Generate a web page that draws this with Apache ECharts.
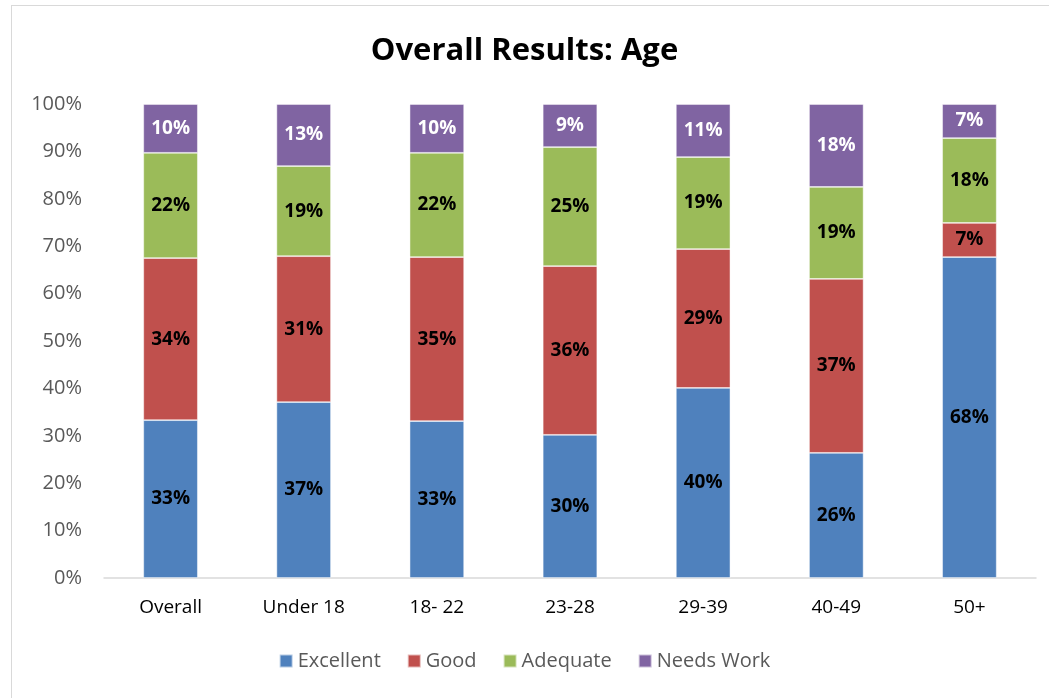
<!DOCTYPE html>
<html><head><meta charset="utf-8">
<script src="https://cdn.jsdelivr.net/npm/echarts@6/dist/echarts.min.js"></script>
<style>html,body{margin:0;padding:0;background:#fff}
#frame{position:absolute;left:11px;top:5px;width:1050px;height:700px;border:1.5px solid #d9d9d9;box-sizing:border-box}
#c{width:1049px;height:698px;position:absolute;left:0;top:0}</style>
</head><body><div id="frame"></div><div id="c"></div>
<script>
const categories = ["Overall","Under 18","18- 22","23-28","29-39","40-49","50+"];
const excellent = [33.3, 37.1, 33.1, 30.2, 40.1, 26.4, 67.7];
const good      = [34.2, 30.8, 34.6, 35.6, 29.3, 36.7, 7.2];
const adequate  = [22.2, 19.0, 22.0, 25.1, 19.4, 19.4, 17.9];
const needsWork = [10.3, 13.1, 10.3, 9.1, 11.2, 17.5, 7.2];
const yTicks = [0,10,20,30,40,50,60,70,80,90,100];

const font = "'Open Sans', 'Noto Sans', sans-serif";
function mk(name, data, color, labelColor){
  return {name, type:'bar', stack:'a', data, barCategoryGap:'59%',
    itemStyle:{color, borderColor:'rgba(255,255,255,0.6)', borderWidth:0.8},
    label:{show:true, position:'inside', color:labelColor, fontWeight:'bold', fontSize:19, fontFamily:font,
      formatter:p=>Math.round(p.value)+'%'}};
}
const chart = echarts.init(document.getElementById('c'));
chart.setOption({
  animation:false,
  title:{text:'Overall Results: Age', left:'center', top:31, textStyle:{fontFamily:font, fontWeight:'bold', fontSize:31, color:'#000'}},
  grid:{left:104, right:13, top:104, bottom:120},
  legend:{bottom:22, left:'center', itemWidth:13, itemHeight:13, itemGap:26, icon:'rect',
    textStyle:{fontFamily:font, fontSize:20, color:'#595959'}},
  xAxis:{type:'category', data:categories, axisTick:{show:false},
    axisLine:{lineStyle:{color:'#d9d9d9', width:1.5}},
    axisLabel:{color:'#000', fontSize:19, fontFamily:font, margin:20}},
  yAxis:{type:'value', min:0, max:100, interval:10, splitLine:{show:false},
    axisLabel:{color:'#595959', fontSize:20, fontFamily:font, margin:22, formatter:v=>yTicks.includes(v)?v+'%':''}},
  series:[
    mk('Excellent', excellent, '#4F81BD', '#000'),
    mk('Good', good, '#C0504D', '#000'),
    mk('Adequate', adequate, '#9BBB59', '#000'),
    mk('Needs Work', needsWork, '#8064A2', '#fff')
  ]
});
</script></body></html>
